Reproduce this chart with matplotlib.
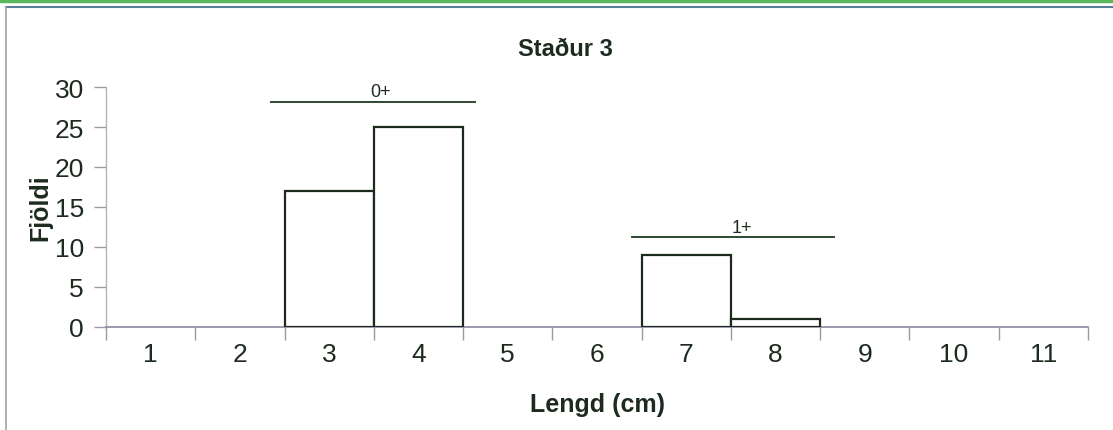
import matplotlib
matplotlib.use("Agg")
import matplotlib.pyplot as plt
from matplotlib.lines import Line2D
import numpy as np

plt.rcParams['font.family'] = ['Liberation Sans', 'DejaVu Sans']

lengths = [1, 2, 3, 4, 5, 6, 7, 8, 9, 10, 11]
counts = [0, 0, 17, 25, 0, 0, 9, 1, 0, 0, 0]
yticks = [0, 5, 10, 15, 20, 25, 30]
title = "Staður 3"
xlabel = "Lengd (cm)"
ylabel = "Fjöldi"
groups = ["0+", "1+"]

W, H = 1113, 431
fig = plt.figure(figsize=(W / 100, H / 100), dpi=100)
fig.patch.set_facecolor('white')

left, right, top, bottom = 106, 1088, 88, 328
ax = fig.add_axes([left / W, 1 - bottom / H, (right - left) / W, (bottom - top) / H])

txt = '#1d2b1f'
edge = '#1c2a1c'

x = np.array(lengths)
c = np.array(counts)
mask = c > 0
ax.bar(x[mask], c[mask], width=1.0, color='white', edgecolor=edge, linewidth=1.6, zorder=3)

ax.set_xlim(0.5, 11.5)
ax.set_ylim(0, 30)
ax.set_yticks(yticks)
ax.set_xticks(lengths)
ax.set_xticks(np.arange(0.5, 12, 1.0), minor=True)
ax.tick_params(axis='x', which='major', length=0, pad=11, labelsize=19, labelcolor=txt)
ax.tick_params(axis='x', which='minor', length=9, width=1, color='#9a9aa8', direction='out')
ax.tick_params(axis='y', length=9, width=1, color='#9a9aa8', pad=7, labelsize=19, labelcolor=txt)

for s in ['top', 'right']:
    ax.spines[s].set_visible(False)
ax.spines['left'].set_color('#b0b4b8')
ax.spines['left'].set_linewidth(1)
ax.spines['bottom'].set_color('#8c88a0')
ax.spines['bottom'].set_linewidth(1.2)

# group annotations
line_col = '#2f4a30'
ax.plot([2.35, 4.63], [28.1, 28.1], color=line_col, lw=1.4, clip_on=False)
ax.text(3.58, 29.4, groups[0], ha='center', va='center', fontsize=13, color=txt)
ax.plot([6.39, 8.65], [11.25, 11.25], color=line_col, lw=1.4, clip_on=False)
ax.text(7.62, 12.4, groups[1], ha='center', va='center', fontsize=13, color=txt)

fig.text(565 / W, 1 - 50 / H, title, ha='center', va='center', fontsize=17,
         fontweight='bold', color=txt)
fig.text(597 / W, 1 - 405 / H, xlabel, ha='center', va='center', fontsize=18,
         fontweight='bold', color=txt)
fig.text(40 / W, 1 - 208 / H, ylabel, ha='center', va='center', fontsize=18,
         fontweight='bold', color=txt, rotation=90)

# frame lines
fig.add_artist(Line2D([0, 1], [1 - 2 / H, 1 - 2 / H], color='#5cb85c', lw=2.5))
fig.add_artist(Line2D([6 / W, 1], [1 - 8 / H, 1 - 8 / H], color='#5a7d9a', lw=1.5))
fig.add_artist(Line2D([6 / W, 6 / W], [0, 1 - 8 / H], color='#9aa4a8', lw=1.2))

fig.savefig('out.png', dpi=100, facecolor='white')
